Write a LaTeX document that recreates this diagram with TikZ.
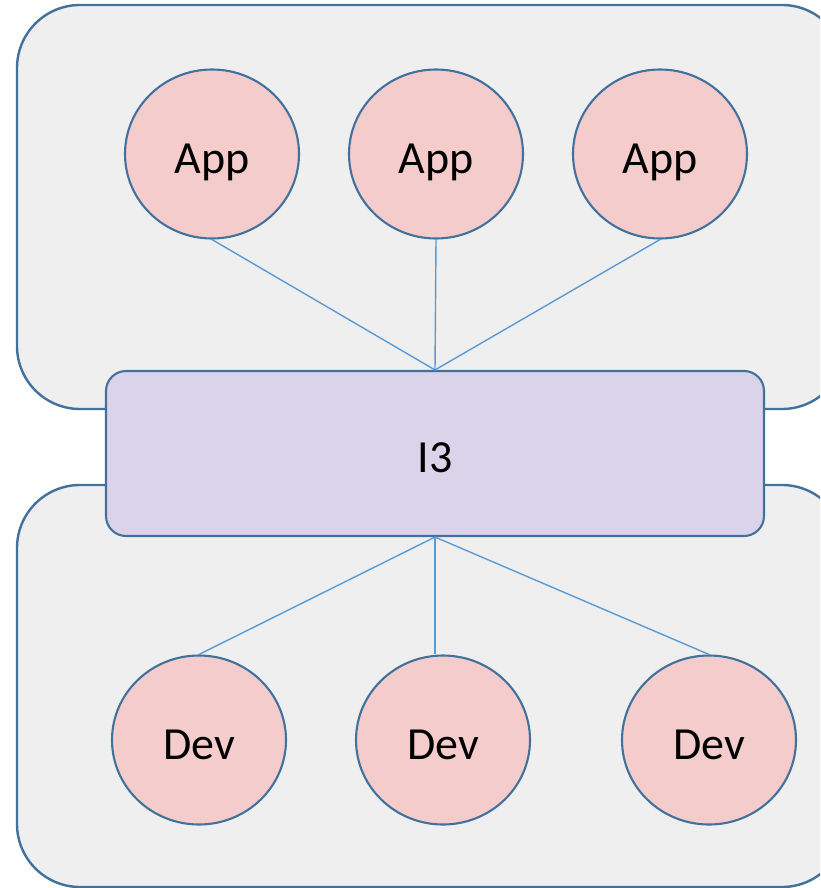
\documentclass[tikz,border=0pt]{standalone}
\usepackage{fontspec}
\setmainfont{Carlito}
\usetikzlibrary{shapes.geometric}

\definecolor{panelfill}{HTML}{EFEFEF}
\definecolor{edgeblue}{HTML}{41719C}
\definecolor{rosefill}{HTML}{F4CCCC}
\definecolor{lilacfill}{HTML}{DAD3E9}
\definecolor{wireblue}{HTML}{5B9BD5}

\tikzset{
  label text/.style={font=\fontsize{46}{52}\selectfont, text height=38pt, text depth=0pt},
  panel/.style={draw=edgeblue, line width=2.4pt, fill=panelfill, rounded corners=63pt},
  endpoint/.style={ellipse, draw=edgeblue, line width=2.1pt, fill=rosefill,
    minimum width=174pt, minimum height=169pt, inner sep=0pt, label text},
  hub/.style={rectangle, draw=edgeblue, line width=2.1pt, fill=lilacfill,
    rounded corners=20pt, minimum width=658pt, minimum height=165pt, inner sep=0pt,
    label text},
  wire/.style={draw=wireblue, line width=1.4pt}
}

\begin{document}
\begin{tikzpicture}[x=1pt, y=-1pt]
  \useasboundingbox (0,0) rectangle (820,888);
  \clip (0,0) rectangle (820,888);

  % background panels
  \draw[panel] (17,5) rectangle (845,409);
  \draw[panel] (17,485) rectangle (845,887);

  % central hub
  \node[hub] (i3) at (435,453.5) {I3};

  % applications
  \node[endpoint] (a1) at (212,154) {App};
  \node[endpoint] (a2) at (436,154) {App};
  \node[endpoint] (a3) at (660,154) {App};

  % devices
  \node[endpoint] (d1) at (199,740) {Dev};
  \node[endpoint] (d2) at (443,740) {Dev};
  \node[endpoint] (d3) at (709,740) {Dev};

  % links
  \draw[wire] (a1.south) -- (i3.north);
  \draw[wire] (a2.south) -- (i3.north);
  \draw[wire] (a3.south) -- (i3.north);
  \draw[wire] (i3.south) -- (d1.north);
  \draw[wire] (i3.south) -- (i3.south |- d2.north);
  \draw[wire] (i3.south) -- (d3.north);
\end{tikzpicture}
\end{document}
